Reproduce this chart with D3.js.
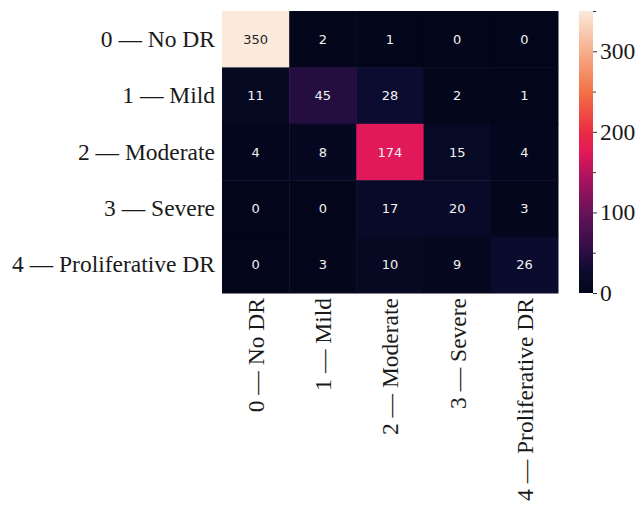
<!DOCTYPE html>
<html>
<head>
<meta charset="utf-8">
<script src="https://cdn.jsdelivr.net/npm/d3@7"></script>
<style>
  html, body { margin: 0; padding: 0; background: #fff; }
  svg { display: block; }
  .serif text, text.serif { font-family: "Liberation Serif", "Times New Roman", Times, serif; }
</style>
</head>
<body>
<svg id="chart" width="641" height="506"></svg>
<script>
// Diabetic retinopathy grades (rows: true class, columns: predicted class)
const classNames = ["0 — No DR", "1 — Mild", "2 — Moderate", "3 — Severe", "4 — Proliferative DR"];

const row0 = [350, 2, 1, 0, 0];
const row1 = [11, 45, 28, 2, 1];
const row2 = [4, 8, 174, 15, 4];
const row3 = [0, 0, 17, 20, 3];
const row4 = [0, 3, 10, 9, 26];
const counts = [row0, row1, row2, row3, row4];

const colorbarTicks = [0, 100, 200, 300];
const colorbarMinorTicks = [50, 150, 250, 350];

// Rocket-style colour ramp (position 0..1 -> colour)
const rampPositions = [0, 0.04, 0.08, 0.14, 0.29, 0.43, 0.5, 0.57, 0.71, 0.86, 1];
const rampColors = ["#03051a", "#070a24", "#0c0b30", "#2a0d42", "#691359", "#b8135e",
                    "#e3195a", "#ea2b43", "#f37045", "#f6b08c", "#fbe9dc"];

const svg = d3.select("#chart");
const serif = '"Liberation Serif", "Times New Roman", Times, serif';

const vmin = 0, vmax = d3.max(counts.flat());

const color = d3.scaleLinear()
  .domain(rampPositions.map(p => vmin + p * (vmax - vmin)))
  .range(rampColors)
  .interpolate(d3.interpolateRgb)
  .clamp(true);

const x = d3.scaleBand().domain(d3.range(classNames.length)).range([222, 558]);
const y = d3.scaleBand().domain(d3.range(classNames.length)).range([11, 293]);

// cells
const cells = [];
counts.forEach((r, i) => r.forEach((v, j) => cells.push({ i, j, v })));

const g = svg.append("g");
g.selectAll("rect.cell")
  .data(cells)
  .join("rect")
  .attr("class", "cell")
  .attr("x", d => x(d.j))
  .attr("y", d => y(d.i))
  .attr("width", x.bandwidth() + 0.5)
  .attr("height", y.bandwidth() + 0.5)
  .attr("fill", d => color(d.v));

// relative luminance decides annotation colour
function luminance(c) {
  const rgb = d3.rgb(c);
  const ch = [rgb.r, rgb.g, rgb.b].map(v => {
    v /= 255;
    return v <= 0.03928 ? v / 12.92 : Math.pow((v + 0.055) / 1.055, 2.4);
  });
  return 0.2126 * ch[0] + 0.7152 * ch[1] + 0.0722 * ch[2];
}

g.selectAll("text.annot")
  .data(cells)
  .join("text")
  .attr("class", "annot")
  .attr("x", d => x(d.j) + x.bandwidth() / 2)
  .attr("y", d => y(d.i) + y.bandwidth() / 2)
  .attr("text-anchor", "middle")
  .attr("dominant-baseline", "central")
  .style("font-family", '"DejaVu Sans", sans-serif')
  .style("font-size", "13px")
  .attr("fill", d => luminance(color(d.v)) > 0.408 ? "#262626" : "#f2f2f2")
  .text(d => d.v);

// row labels
const yAxis = d3.axisLeft(y).tickSize(0).tickPadding(7).tickFormat(i => classNames[i]);
const yg = svg.append("g").attr("class", "serif").attr("transform", "translate(222,0)").call(yAxis);
yg.attr("font-family", null).attr("font-size", null);
yg.select(".domain").remove();
yg.selectAll("text")
  .style("font-family", serif)
  .style("font-size", "23.5px")
  .attr("fill", "#1a1a1a")
  .attr("dy", "0.32em");

// column labels, rotated
const xAxis = d3.axisBottom(x).tickSize(0).tickPadding(0).tickFormat(i => classNames[i]);
const xg = svg.append("g").attr("class", "serif").attr("transform", "translate(0,293)").call(xAxis);
xg.attr("font-family", null).attr("font-size", null);
xg.select(".domain").remove();
xg.selectAll("text")
  .style("font-family", serif)
  .style("font-size", "23.5px")
  .attr("fill", "#1a1a1a")
  .attr("text-anchor", "end")
  .attr("transform", "rotate(-90)")
  .attr("x", -5)
  .attr("y", 0)
  .attr("dy", "0.36em");

// colour bar
const cbX = 579, cbW = 14;
const cbScale = d3.scaleLinear().domain([vmin, vmax]).range([293, 11]);

const defs = svg.append("defs");
const grad = defs.append("linearGradient")
  .attr("id", "cbar")
  .attr("x1", 0).attr("y1", 1).attr("x2", 0).attr("y2", 0);
grad.selectAll("stop")
  .data(d3.range(0, 1.0001, 0.02))
  .join("stop")
  .attr("offset", t => t)
  .attr("stop-color", t => color(vmin + t * (vmax - vmin)));

svg.append("rect")
  .attr("x", cbX)
  .attr("y", cbScale(vmax))
  .attr("width", cbW)
  .attr("height", cbScale(vmin) - cbScale(vmax))
  .attr("fill", "url(#cbar)");

const cbAxis = d3.axisRight(cbScale).tickValues(colorbarTicks).tickSize(4).tickPadding(3);
const cbg = svg.append("g").attr("class", "serif").attr("transform", `translate(${cbX + cbW},0)`).call(cbAxis);
cbg.attr("font-family", null).attr("font-size", null);
cbg.select(".domain").remove();
cbg.selectAll("line").attr("stroke", "#333").attr("stroke-width", 1);
cbg.selectAll("text")
  .style("font-family", serif)
  .style("font-size", "23.5px")
  .attr("fill", "#1a1a1a");

const cbMinor = d3.axisRight(cbScale).tickValues(colorbarMinorTicks).tickSize(3).tickFormat("");
const cbm = svg.append("g").attr("transform", `translate(${cbX + cbW},0)`).call(cbMinor);
cbm.select(".domain").remove();
cbm.selectAll("line").attr("stroke", "#333").attr("stroke-width", 1);
</script>
</body>
</html>
